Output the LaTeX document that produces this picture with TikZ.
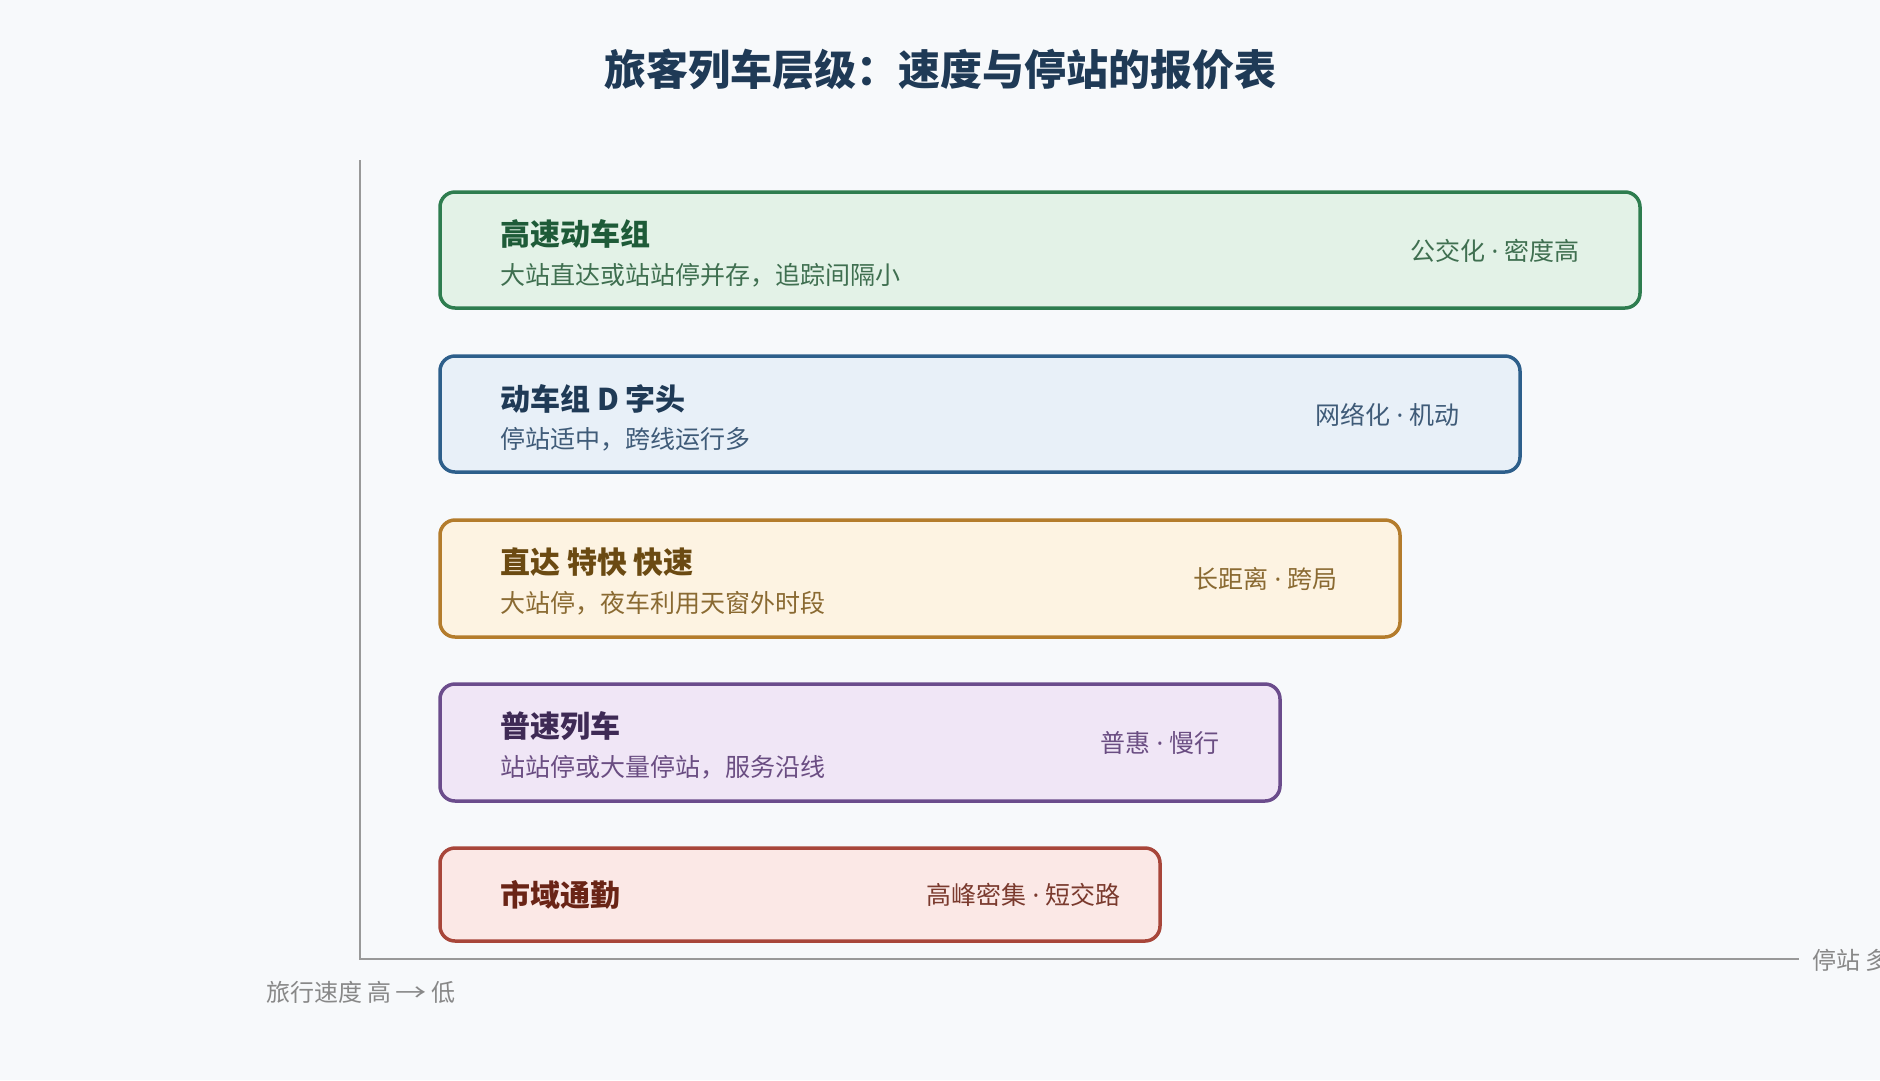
\documentclass[tikz,border=0pt]{standalone}
\usepackage{graphicx}
\usepackage{fontspec}
\setmainfont{Noto Sans CJK SC}
\newfontfamily\latinfont{Noto Sans}
\newcommand{\sepdot}{{\latinfont\ ·\ }}
\definecolor{bg}{HTML}{F7F9FB}
\definecolor{titlec}{HTML}{1F3A56}
\definecolor{axisc}{HTML}{999999}
\definecolor{axlab}{HTML}{888888}
\definecolor{dA}{HTML}{2E7D4F}\definecolor{fA}{HTML}{E3F2E7}\definecolor{hA}{HTML}{1E5B38}\definecolor{sA}{HTML}{3F6F50}
\definecolor{dB}{HTML}{2D5F8B}\definecolor{fB}{HTML}{E8F0F8}\definecolor{hB}{HTML}{1F3A56}\definecolor{sB}{HTML}{3F5B78}
\definecolor{dC}{HTML}{B47C2C}\definecolor{fC}{HTML}{FDF3E2}\definecolor{hC}{HTML}{6B4A12}\definecolor{sC}{HTML}{8A6A32}
\definecolor{dD}{HTML}{6B4C8C}\definecolor{fD}{HTML}{F0E6F6}\definecolor{hD}{HTML}{3E2A55}\definecolor{sD}{HTML}{6A4D82}
\definecolor{dE}{HTML}{A8463A}\definecolor{fE}{HTML}{FBE8E6}\definecolor{hE}{HTML}{6A2416}\definecolor{sE}{HTML}{7A3A2E}
\begin{document}
\begin{tikzpicture}[x=1pt,y=-1pt,
  tier/.style={rounded corners=15pt,line width=3.5pt},
  head/.style={anchor=west,inner sep=0pt,font=\fontsize{30}{36}\selectfont\bfseries},
  sub/.style={anchor=west,inner sep=0pt,font=\fontsize{25}{30}\selectfont},
  tag/.style={anchor=east,inner sep=0pt,font=\fontsize{25}{30}\selectfont},
  axisline/.style={draw=axisc,line width=2.5pt},
  axlabel/.style={inner sep=0pt,text=axlab,font=\fontsize{24}{28}\selectfont}]
\fill[bg] (0,0) rectangle (1880,1080);
\useasboundingbox (0,0) rectangle (1880,1080);
\node[inner sep=0pt,text=titlec,font=\fontsize{42}{50}\selectfont\bfseries] (title) at (940,69) {旅客列车层级：速度与停站的报价表};
% axes
\coordinate (otop) at (360,160);
\coordinate (orig) at (360,959);
\coordinate (xend) at (1799,959);
\draw[axisline] (otop) -- (orig) -- (xend);
\node[axlabel,anchor=west] (xlab) at (1812,960) {停站 多};
\node[axlabel,anchor=west] (ylab) at (266,992) {旅行速度 高 \makebox[1.2em]{\scalebox{1.3}[1]{→}} 低};
% tier 1
\draw[tier,draw=dA,fill=fA] (440,192) rectangle (1640,308);
\node[head,text=hA] (h1) at (500,233.5) {高速动车组};
\node[sub,text=sA] (s1) at (500,275) {大站直达或站站停并存，追踪间隔小};
\node[tag,text=sA] (t1) at (1580,251) {公交化\sepdot 密度高};
% tier 2
\draw[tier,draw=dB,fill=fB] (440,356) rectangle (1520,472);
\node[head,text=hB] (h2) at (500,398.5) {动车组 D 字头};
\node[sub,text=sB] (s2) at (500,439) {停站适中，跨线运行多};
\node[tag,text=sB] (t2) at (1460,415) {网络化\sepdot 机动};
% tier 3
\draw[tier,draw=dC,fill=fC] (440,520) rectangle (1400,637);
\node[head,text=hC] (h3) at (500,562.5) {直达 特快 快速};
\node[sub,text=sC] (s3) at (500,603) {大站停，夜车利用天窗外时段};
\node[tag,text=sC] (t3) at (1338,579) {长距离\sepdot 跨局};
% tier 4
\draw[tier,draw=dD,fill=fD] (440,684) rectangle (1280,801);
\node[head,text=hD] (h4) at (500,726.5) {普速列车};
\node[sub,text=sD] (s4) at (500,767) {站站停或大量停站，服务沿线};
\node[tag,text=sD] (t4) at (1220,743) {普惠\sepdot 慢行};
% tier 5
\draw[tier,draw=dE,fill=fE] (440,848) rectangle (1160,941);
\node[head,text=hE] (h5) at (500,895) {市域通勤};
\node[tag,text=sE] (t5) at (1121,895) {高峰密集\sepdot 短交路};
\end{tikzpicture}
\end{document}
